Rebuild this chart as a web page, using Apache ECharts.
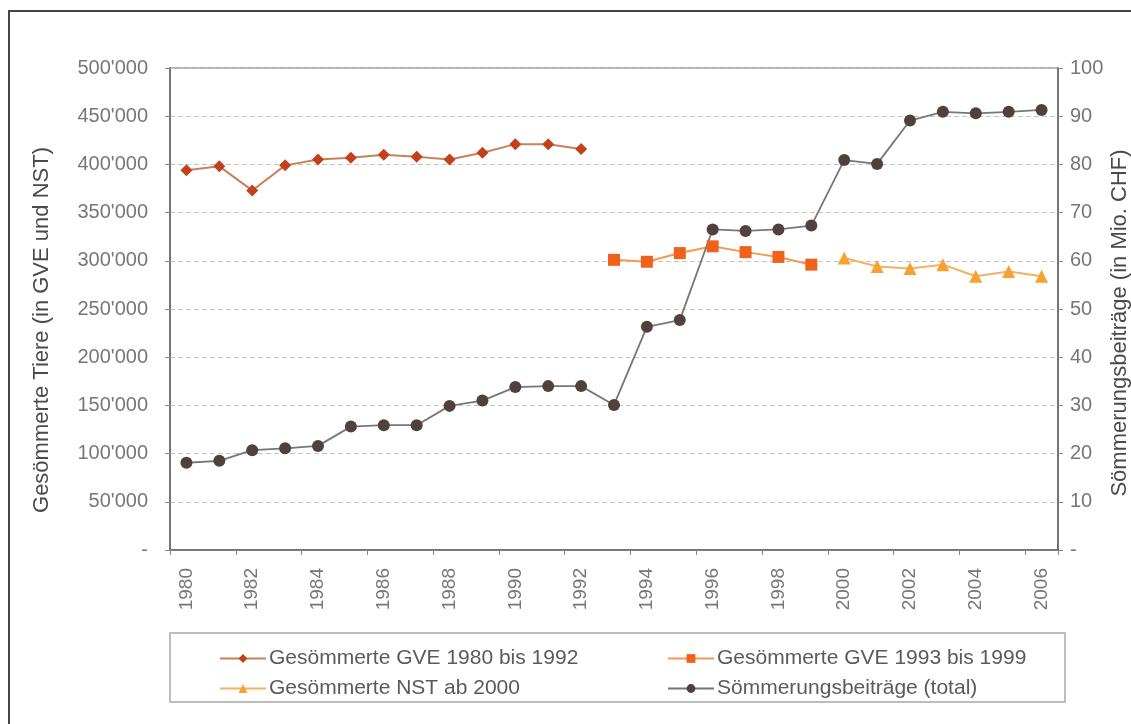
<!DOCTYPE html>
<html>
<head>
<meta charset="utf-8">
<script src="https://cdn.jsdelivr.net/npm/echarts@6/dist/echarts.min.js"></script>
<style>
  html, body { margin: 0; padding: 0; background: #fff; }
  #chart { width: 1131px; height: 724px; }
</style>
</head>
<body>
<div id="chart"></div>
<script>
// Years on the category axis
const years = ['1980','1981','1982','1983','1984','1985','1986','1987','1988','1989','1990',
  '1991','1992','1993','1994','1995','1996','1997','1998','1999','2000','2001','2002','2003',
  '2004','2005','2006'];

// Summered livestock units (GVE) 1980–1992
const gve8092 = [394000, 398000, 373000, 399000, 405000, 407000, 410000, 408000, 405000, 412000,
  421000, 421000, 416000];
// Summered livestock units (GVE) 1993–1999
const gve9399 = [301000, 299000, 308000, 315000, 309000, 304000, 296000];
// Summered normal stocking (NST) from 2000
const nst0006 = [303000, 294000, 292000, 296000, 284000, 289000, 284000];
// Summering contributions, million CHF
const beitraege = [18.1, 18.5, 20.7, 21.1, 21.6, 25.6, 25.9, 25.9, 29.9, 31.0, 33.8, 34.0, 34.0,
  30.1, 46.3, 47.7, 66.5, 66.2, 66.5, 67.3, 80.9, 80.1, 89.1, 90.9, 90.6, 90.9, 91.3];

const seriesNames = ['Gesömmerte GVE 1980 bis 1992', 'Gesömmerte GVE 1993 bis 1999',
  'Gesömmerte NST ab 2000', 'Sömmerungsbeiträge (total)'];
const leftTitle = 'Gesömmerte Tiere (in GVE und NST)';
const rightTitle = 'Sömmerungsbeiträge (in Mio. CHF)';

// place a partial series at its year offset on the shared axis
function placeAt(startYear, values) {
  const out = years.map(() => null);
  const i0 = years.indexOf(startYear);
  values.forEach((v, i) => { out[i0 + i] = v; });
  return out;
}

const FONT = '"Liberation Sans", Arial, sans-serif';
const labelColor = '#777';

function fmtThousands(v) {
  if (v === 0) return '-';
  const s = String(Math.round(v));
  return s.replace(/\B(?=(\d{3})+(?!\d))/g, "'");
}

const chart = echarts.init(document.getElementById('chart'), null, { renderer: 'canvas' });

const legendBase = {
  itemWidth: 46, itemHeight: 11, itemGap: 10,
  textStyle: { fontFamily: FONT, fontSize: 21, color: '#5a5a5a', padding: [0, 0, 0, -2] },
  selectedMode: false
};

chart.setOption({
  animation: false,
  backgroundColor: '#fff',
  grid: { left: 170, right: 73, top: 68, bottom: 174, show: true, borderColor: '#666', borderWidth: 1.2 },
  xAxis: {
    type: 'category',
    data: years,
    boundaryGap: true,
    axisLine: { lineStyle: { color: '#666', width: 1.5 } },
    axisTick: { show: true, length: 5, lineStyle: { color: '#888' } },
    axisLabel: {
      rotate: 90, interval: 1, margin: 18,
      fontFamily: FONT, fontSize: 19, color: labelColor
    }
  },
  yAxis: [
    {
      type: 'value', min: 0, max: 500000, interval: 50000, position: 'left',
      axisLine: { show: true, lineStyle: { color: '#666', width: 1.5 } },
      axisTick: { show: true, length: 5, lineStyle: { color: '#888' } },
      axisLabel: { margin: 22, fontFamily: FONT, fontSize: 20, color: labelColor, formatter: fmtThousands },
      splitLine: { show: true, lineStyle: { color: '#c4c4c4', type: [5, 3], width: 1.2 } }
    },
    {
      type: 'value', min: 0, max: 100, interval: 10, position: 'right',
      axisLine: { show: true, lineStyle: { color: '#666', width: 1.5 } },
      axisTick: { show: true, length: 5, lineStyle: { color: '#888' } },
      axisLabel: { margin: 12, fontFamily: FONT, fontSize: 20, color: labelColor,
        formatter: v => (v === 0 ? '-' : String(v)) },
      splitLine: { show: false }
    }
  ],
  legend: [
    Object.assign({ data: [seriesNames[0]], left: 214, top: 643 }, legendBase),
    Object.assign({ data: [seriesNames[1]], left: 662, top: 643 }, legendBase),
    Object.assign({ data: [seriesNames[2]], left: 214, top: 673 }, legendBase),
    Object.assign({ data: [seriesNames[3]], left: 662, top: 673 }, legendBase)
  ],
  series: [
    {
      name: seriesNames[0], type: 'line', yAxisIndex: 0,
      data: placeAt('1980', gve8092),
      symbol: 'diamond', symbolSize: 12,
      itemStyle: { color: '#c2411c' },
      lineStyle: { color: '#c8825a', width: 2 }
    },
    {
      name: seriesNames[1], type: 'line', yAxisIndex: 0,
      data: placeAt('1993', gve9399),
      symbol: 'rect', symbolSize: 12,
      itemStyle: { color: '#f0621c' },
      lineStyle: { color: '#f39a55', width: 2 }
    },
    {
      name: seriesNames[2], type: 'line', yAxisIndex: 0,
      data: placeAt('2000', nst0006),
      symbol: 'triangle', symbolSize: 13,
      itemStyle: { color: '#f6a232' },
      lineStyle: { color: '#f3b060', width: 2 }
    },
    {
      name: seriesNames[3], type: 'line', yAxisIndex: 1,
      data: beitraege,
      symbol: 'circle', symbolSize: 12,
      itemStyle: { color: '#4f413c' },
      lineStyle: { color: '#777', width: 1.8 }
    }
  ],
  graphic: [
    { type: 'rect', z: 100, silent: true,
      shape: { x: 9, y: 11, width: 1200, height: 800 },
      style: { fill: 'none', stroke: '#444', lineWidth: 2 } },
    { type: 'rect', z: 0, silent: true,
      shape: { x: 170, y: 633, width: 895, height: 69 },
      style: { fill: 'none', stroke: '#bdbdbd', lineWidth: 2 } },
    { type: 'text', silent: true, x: 42, y: 330, rotation: Math.PI / 2,
      style: { text: leftTitle, fontFamily: FONT, fontSize: 22, fill: '#4a4a4a',
        align: 'center', verticalAlign: 'middle' } },
    { type: 'text', silent: true, x: 1120, y: 323, rotation: Math.PI / 2,
      style: { text: rightTitle, fontFamily: FONT, fontSize: 22, fill: '#4a4a4a',
        align: 'center', verticalAlign: 'middle' } }
  ]
});
</script>
</body>
</html>
